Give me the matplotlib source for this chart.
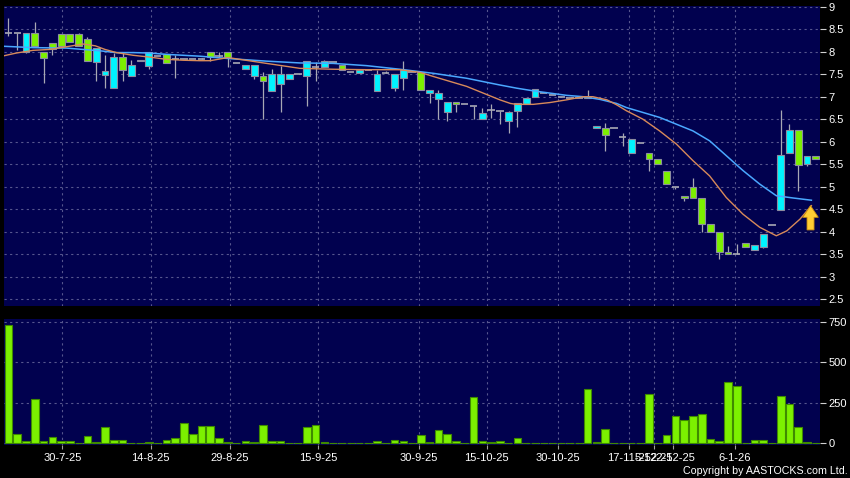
import matplotlib
matplotlib.use("Agg")
import matplotlib.pyplot as plt
import numpy as np
from matplotlib.patches import FancyArrow

# ---------------- data ----------------
opens = [8.41, 8.41, 8.00, 8.41, 8.00, 8.20, 8.40, 8.40, 8.40, 8.29,
         7.76, 7.49, 7.20, 7.88, 7.45, 7.82, 7.68, 7.90, 7.94, 7.84,
         7.83, 7.83, 7.84, 7.99, 7.91, 7.99, 7.74, 7.61, 7.46, 7.45,
         7.13, 7.29, 7.40, 7.50, 7.46, 7.66, 7.66, 7.78, 7.70, 7.55,
         7.52, 7.60, 7.13, 7.52, 7.20, 7.42, 7.55, 7.55, 7.08, 6.94,
         6.67, 6.89, 6.83, 6.79, 6.50, 6.71, 6.68, 6.45, 6.68, 6.83,
         7.00, 7.09, 7.04, 7.00, 6.98, 6.97, 7.00, 6.31, 6.30, 6.30,
         6.11, 5.75, 5.97, 5.75, 5.61, 5.36, 4.99, 4.80, 4.99, 4.75,
         4.17, 3.99, 3.56, 3.50, 3.74, 3.59, 3.67, 4.16, 4.49, 5.75,
         6.26, 5.50, 5.69]
highs = [8.75, 8.41, 8.42, 8.67, 8.00, 8.20, 8.40, 8.40, 8.42, 8.32,
         8.08, 7.92, 7.96, 7.96, 7.81, 7.82, 7.99, 7.90, 7.94, 7.92,
         7.83, 7.83, 7.86, 7.99, 8.00, 7.99, 7.74, 7.71, 7.71, 7.54,
         7.61, 7.69, 7.51, 7.50, 7.80, 7.77, 7.81, 7.78, 7.70, 7.55,
         7.60, 7.60, 7.59, 7.58, 7.50, 7.79, 7.55, 7.55, 7.14, 7.14,
         6.89, 6.89, 6.83, 6.79, 6.76, 6.83, 6.68, 6.68, 6.87, 6.98,
         7.18, 7.09, 7.04, 7.00, 6.98, 6.97, 7.14, 6.35, 6.41, 6.30,
         6.19, 6.06, 5.97, 5.75, 5.61, 5.36, 4.99, 4.80, 5.19, 4.75,
         4.17, 3.99, 3.69, 3.73, 3.74, 3.70, 3.95, 4.16, 6.70, 6.39,
         6.26, 5.69, 5.69]
lows = [8.34, 8.04, 7.98, 8.10, 7.30, 7.92, 8.10, 8.21, 8.12, 7.80,
        7.34, 7.19, 7.20, 7.34, 7.45, 7.79, 7.62, 7.90, 7.74, 7.41,
        7.83, 7.83, 7.84, 7.80, 7.89, 7.66, 7.74, 7.61, 7.40, 6.51,
        7.13, 6.67, 7.40, 7.50, 6.79, 7.34, 7.66, 7.78, 7.60, 7.55,
        7.52, 7.60, 7.13, 7.52, 7.13, 7.15, 7.55, 7.14, 6.85, 6.50,
        6.45, 6.65, 6.83, 6.50, 6.50, 6.53, 6.40, 6.20, 6.33, 6.83,
        7.00, 7.09, 7.04, 7.00, 6.98, 6.97, 6.98, 6.31, 5.80, 6.30,
        5.91, 5.75, 5.97, 5.34, 5.50, 5.06, 4.96, 4.69, 4.76, 3.99,
        3.99, 3.39, 3.50, 3.50, 3.67, 3.59, 3.64, 4.16, 4.49, 5.75,
        4.91, 5.47, 5.61]
closes = [8.41, 8.41, 8.41, 8.13, 7.85, 8.07, 8.12, 8.21, 8.12, 7.80,
          8.08, 7.58, 7.88, 7.59, 7.71, 7.79, 7.99, 7.90, 7.74, 7.84,
          7.83, 7.83, 7.84, 7.89, 7.91, 7.89, 7.74, 7.71, 7.71, 7.35,
          7.51, 7.51, 7.51, 7.50, 7.80, 7.66, 7.79, 7.78, 7.60, 7.55,
          7.60, 7.60, 7.51, 7.52, 7.50, 7.60, 7.55, 7.14, 7.14, 7.08,
          6.89, 6.83, 6.83, 6.79, 6.63, 6.71, 6.68, 6.67, 6.87, 6.98,
          7.18, 7.09, 7.04, 7.00, 6.98, 6.97, 6.98, 6.35, 6.15, 6.30,
          6.11, 6.06, 5.97, 5.61, 5.50, 5.06, 4.99, 4.75, 4.76, 4.17,
          3.99, 3.54, 3.50, 3.50, 3.67, 3.70, 3.95, 4.16, 5.70, 6.26,
          5.49, 5.69, 5.61]
volumes = [733, 54, 14, 273, 14, 35, 14, 14, 2, 43,
           4, 101, 16, 20, 2, 2, 6, 0, 16, 33,
           126, 58, 107, 103, 29, 8, 0, 10, 4, 114,
           10, 14, 2, 2, 101, 109, 8, 0, 0, 0,
           0, 0, 14, 2, 19, 12, 0, 48, 6, 81,
           56, 12, 0, 285, 12, 6, 12, 2, 33, 2,
           2, 2, 2, 1, 0, 0, 337, 6, 87, 0,
           0, 0, 0, 306, 0, 47, 167, 143, 169, 182,
           25, 12, 380, 355, 0, 19, 21, 3, 291, 242,
           97, 8, 0]

ma_long_x = [-0.5, 2.8, 6.6, 8.5, 10.4, 12.3, 14.2, 16.1, 18.0, 19.9, 21.8, 23.0,
             25.6, 29.4, 33.2, 37.0, 40.8, 44.6, 48.4, 52.2, 56.0, 57.9, 59.8,
             61.7, 63.6, 65.5, 67.4, 69.3, 70.4, 74.2, 78.0, 79.9, 81.8, 83.7,
             85.6, 87.5, 89.4, 91.5]
ma_long = [8.12, 8.09, 8.08, 8.05, 8.02, 7.98, 7.98, 7.97, 7.94, 7.92, 7.90, 7.88,
           7.84, 7.79, 7.75, 7.74, 7.69, 7.61, 7.52, 7.41, 7.26, 7.19, 7.13,
           7.08, 7.03, 7.00, 6.94, 6.85, 6.76, 6.54, 6.24, 6.02, 5.69, 5.36,
           5.06, 4.80, 4.75, 4.70]
ma_short_x = [-0.5, 0.9, 2.8, 4.7, 6.6, 8.5, 9.9, 11.0, 12.3, 14.2, 16.1, 18.0,
              19.9, 21.8, 23.0, 25.0, 29.4, 33.2, 35.0, 37.0, 40.8, 44.6, 46.9,
              48.4, 50.3, 52.2, 54.1, 56.0, 57.2, 57.9, 59.8, 61.7, 63.6, 65.5,
              66.6, 68.2, 69.3, 70.4, 72.3, 74.2, 76.1, 78.0, 79.9, 81.8, 83.7,
              85.6, 87.5, 88.7, 90.2, 91.5]
ma_short = [7.91, 7.97, 8.03, 8.05, 8.11, 8.17, 8.13, 8.05, 7.98, 7.92, 7.88, 7.83,
            7.81, 7.80, 7.80, 7.87, 7.74, 7.63, 7.62, 7.61, 7.60, 7.60, 7.54,
            7.45, 7.34, 7.23, 7.08, 6.93, 6.85, 6.83, 6.83, 6.87, 6.93, 7.00,
            7.00, 6.93, 6.82, 6.69, 6.50, 6.24, 5.95, 5.58, 5.24, 4.76, 4.39,
            4.10, 3.91, 4.02, 4.28, 4.58]

date_tick_pos = [6.13, 16.2, 25.2, 35.3, 46.8, 54.5, 62.6, 70.7, 73.6, 75.7, 82.8]
date_labels = ["30-7-25", "14-8-25", "29-8-25", "15-9-25", "30-9-25", "15-10-25",
               "30-10-25", "17-11-25", "5-12-25", "22-12-25", "6-1-26"]
price_ticks = [2.5, 3, 3.5, 4, 4.5, 5, 5.5, 6, 6.5, 7, 7.5, 8, 8.5, 9]
volume_ticks = [0, 250, 500, 750]
signal_bar, signal_low, signal_high = 91.4, 4.04, 4.58

# ---------------- style ----------------
BG = "#01014f"
GRID = "#56568e"
UP = "#00f4ff"
DOWN = "#7cf000"
EDGE = "#8c8ca0"
WICK = "#a8a8b4"
FONT = "Liberation Sans"

W, H = 850, 478
fig = plt.figure(figsize=(W / 100, H / 100), dpi=100, facecolor="black")
ax = fig.add_axes([4 / W, (H - 306) / H, 816 / W, 300 / H], facecolor=BG)
axv = fig.add_axes([4 / W, (H - 445) / H, 816 / W, 126 / H], facecolor=BG)

o = np.array(opens); h = np.array(highs); l = np.array(lows); c = np.array(closes)
x = np.arange(len(o))

for a in (ax, axv):
    for s in a.spines.values():
        s.set_visible(False)
    a.set_xlim(-0.51, 92.48)
    a.set_xticks(date_tick_pos)
    a.grid(True, color=GRID, linestyle=(0, (2, 3)), linewidth=0.8)
    a.set_axisbelow(True)
    a.yaxis.tick_right()
    a.tick_params(axis="y", colors="#d0d0d0", length=4, width=0.8, pad=2,
                  labelcolor="white", labelsize=8)

# wicks
ax.vlines(x, l, h, color=WICK, linewidth=0.9, zorder=2)
# bodies
up = c > o
dn = c < o
dj = c == o
ax.bar(x[up], (c - o)[up], bottom=o[up], width=0.78, color=UP, edgecolor=EDGE,
       linewidth=0.8, zorder=3)
ax.bar(x[dn], (o - c)[dn], bottom=c[dn], width=0.78, color=DOWN, edgecolor=EDGE,
       linewidth=0.8, zorder=3)
ax.hlines(c[dj], x[dj] - 0.42, x[dj] + 0.42, color=WICK, linewidth=1.2, zorder=3)

# moving averages
ax.plot(ma_long_x, ma_long, color="#4aa8ff", linewidth=1.1, zorder=4)
ax.plot(ma_short_x, ma_short, color="#d88a5a", linewidth=1.0, zorder=4)

# signal arrow
arr = FancyArrow(signal_bar, signal_low, 0, signal_high - signal_low, width=0.8,
                 head_width=1.78, head_length=0.26, length_includes_head=True,
                 facecolor="#ffcc33", edgecolor="#c88a10", linewidth=0.6, zorder=5)
ax.add_patch(arr)

ax.set_ylim(2.35, 9.015)
ax.set_yticks(price_ticks)
ax.set_yticklabels([f"{p:g}" for p in price_ticks], fontfamily=FONT)
ax.tick_params(axis="x", length=0, labelbottom=False)

# volume
axv.bar(x, volumes, width=0.87, color=DOWN, edgecolor="#3f8a00", linewidth=0.8, zorder=3)
axv.set_ylim(-12, 768)
axv.set_yticks(volume_ticks)
axv.set_yticklabels([str(v) for v in volume_ticks], fontfamily=FONT)
axv.set_xticklabels(date_labels, fontfamily=FONT)
axv.tick_params(axis="x", colors="#a0a0a0", length=3, width=0.8, pad=3,
                labelcolor="white", labelsize=8)

fig.text(0.997, 0.004, "Copyright by AASTOCKS.com Ltd.", color="white",
         fontsize=7.7, fontfamily=FONT, ha="right", va="bottom")

fig.savefig("out.png", dpi=100, facecolor="black")
